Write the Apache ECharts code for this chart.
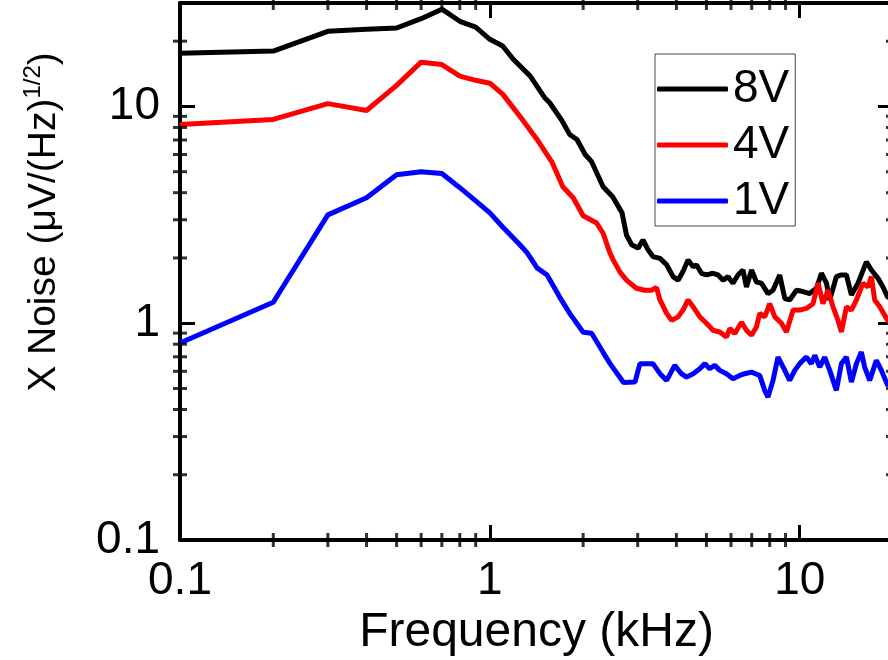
<!DOCTYPE html>
<html>
<head>
<meta charset="utf-8">
<script src="https://cdn.jsdelivr.net/npm/echarts@6/dist/echarts.min.js"></script>
<style>
html,body{margin:0;padding:0;background:#fff;}
#chart{width:888px;height:660px;}
</style>
</head>
<body>
<div id="chart"></div>
<script>
// ---- data (frequency in kHz, noise in µV/√Hz) ----
const freq8V = [0.1,0.2,0.3,0.4,0.5,0.6,0.7,0.8,0.9,1.0,1.1,1.19,1.35,1.50,1.56,1.70,1.81,1.91,2.03,2.13,2.32,2.49,2.67,2.76,2.87,3.01,3.12,3.24,3.36,3.54,3.72,3.90,4.05,4.20,4.36,4.53,4.64,4.82,5.00,5.25,5.45,5.66,5.87,6.09,6.32,6.56,6.73,6.99,7.25,7.52,7.90,8.20,8.62,8.95,9.28,9.76,10.25,10.77,11.32,11.75,12.20,12.50,13.13,13.63,14.15,14.68,15.42,16.41,17.03,17.89,18.57,19.23,20.0];
const noise8V = [17.6,18.0,22.2,22.7,23.0,25.4,28.1,24.7,23.2,20.4,19.0,16.5,13.8,11.0,10.4,8.7,7.42,7.04,6.00,5.56,4.26,3.83,3.23,2.55,2.30,2.22,2.42,2.18,2.03,1.99,1.86,1.64,1.58,1.73,1.96,1.82,1.86,1.70,1.67,1.70,1.67,1.58,1.64,1.53,1.67,1.76,1.47,1.76,1.55,1.53,1.37,1.42,1.67,1.30,1.28,1.42,1.40,1.37,1.45,1.70,1.53,1.28,1.64,1.67,1.67,1.35,1.53,1.92,1.76,1.61,1.47,1.32,1.30];

const freq4V = [0.1,0.2,0.3,0.4,0.5,0.6,0.7,0.8,0.9,1.0,1.1,1.25,1.42,1.59,1.72,1.86,2.00,2.21,2.32,2.44,2.50,2.63,2.76,2.97,3.16,3.32,3.45,3.54,3.72,3.86,4.05,4.20,4.36,4.53,4.76,5.00,5.25,5.52,5.80,5.95,6.17,6.49,6.73,6.99,7.25,7.43,7.71,8.00,8.31,8.73,9.06,9.52,10.0,10.5,11.04,11.46,11.89,12.34,12.81,13.29,13.63,14.15,14.68,15.24,16.0,16.61,17.03,17.46,18.12,19.23,20.0];
const noise4V = [8.26,8.71,10.3,9.58,12.5,16.0,15.6,13.8,13.2,12.8,11.4,9.0,7.04,5.5,4.26,3.78,3.13,2.90,2.60,2.11,1.96,1.72,1.58,1.45,1.42,1.42,1.46,1.28,1.11,1.03,1.07,1.15,1.28,1.19,1.07,1.00,0.928,0.911,0.864,0.945,0.896,1.01,0.928,0.880,0.961,1.11,1.07,1.23,1.07,1.00,0.911,1.15,1.15,1.17,1.23,1.53,1.23,1.42,1.19,1.03,0.911,1.19,1.15,1.28,1.53,1.47,1.64,1.28,1.19,1.03,1.00];

const freq1V = [0.1,0.2,0.3,0.4,0.5,0.6,0.7,0.8,0.9,1.0,1.1,1.25,1.32,1.42,1.53,1.68,1.81,2.00,2.13,2.32,2.44,2.70,2.94,3.05,3.20,3.36,3.54,3.72,3.95,4.15,4.31,4.53,4.76,4.94,5.12,5.32,5.52,5.80,6.09,6.40,6.65,6.99,7.43,7.71,7.90,8.20,8.51,8.95,9.28,9.64,10.0,10.5,10.9,11.18,11.6,12.04,12.5,13.13,13.63,14.15,14.68,15.24,15.81,16.2,16.82,17.67,18.35,19.23,20.0];
const noise1V = [0.81,1.25,3.16,3.79,4.84,5.00,4.90,4.22,3.67,3.23,2.78,2.30,2.11,1.80,1.67,1.32,1.11,0.908,0.899,0.734,0.653,0.533,0.535,0.651,0.651,0.651,0.585,0.545,0.639,0.585,0.564,0.585,0.617,0.651,0.617,0.639,0.606,0.585,0.555,0.574,0.585,0.595,0.574,0.490,0.456,0.545,0.698,0.606,0.545,0.606,0.651,0.698,0.651,0.711,0.628,0.698,0.606,0.490,0.651,0.698,0.535,0.651,0.736,0.628,0.545,0.674,0.606,0.516,0.55];

const seriesNames = ['8V','4V','1V'];
const seriesColors = ['#000000','#ff0000','#0000ff'];

const xMin = 0.1, xMax = 20;
const yMin = 0.1, yMax = 30;
const xMinorTicks = [0.2,0.3,0.4,0.5,0.6,0.7,0.8,0.9,2,3,4,5,6,7,8,9];
const yMinorTicks = [0.2,0.3,0.4,0.5,0.6,0.7,0.8,0.9,2,3,4,5,6,7,8,9,20];

const FONT = '"Liberation Sans", Arial, sans-serif';

function zip(a, b){ return a.map((v,i)=>[v,b[i]]); }

const chart = echarts.init(document.getElementById('chart'), null, {renderer:'canvas'});

const isDecade = v => Math.abs(Math.log10(v) - Math.round(Math.log10(v))) < 1e-6;

const axisCommon = {
  type: 'log', logBase: 10,
  axisLine: {show:true, lineStyle:{color:'#000', width:4}},
  axisTick: {show:true, inside:true, length:15, lineStyle:{color:'#000', width:3}},
  splitLine: {show:false}
};

const MT_LEN = 14, MT_W = 3; // symbol centred on frame edge: 7px shows inside

function minorTickSeries(data, size){
  return {type:'scatter', data:data, symbol:'rect', symbolSize:size,
    itemStyle:{color:'#000'}, clip:false, z:5};
}

const option = {
  animation: false,
  backgroundColor: '#fff',
  grid: {left:180, right:-5, top:3, bottom:120, containLabel:false, outerBoundsMode:'none'},
  xAxis: [
    Object.assign({}, axisCommon, {
      position:'bottom', min:xMin, max:xMax,
      name:'Frequency (kHz)', nameLocation:'middle', nameGap:68,
      nameTextStyle:{fontFamily:FONT, fontSize:48, color:'#000'},
      axisLabel:{show:true, margin:18, fontFamily:FONT, fontSize:46, color:'#000',
        showMaxLabel:false,
        formatter: v => isDecade(v) ? String(+v.toPrecision(3)) : ''}
    }),
    Object.assign({}, axisCommon, {
      position:'top', min:xMin, max:xMax, axisLabel:{show:false}
    })
  ],
  yAxis: [
    Object.assign({}, axisCommon, {
      position:'left', min:yMin, max:yMax,
      axisLabel:{show:true, margin:20, fontFamily:FONT, fontSize:46, color:'#000',
        showMaxLabel:false,
        formatter: v => isDecade(v) ? String(+v.toPrecision(3)) : ''}
    }),
    Object.assign({}, axisCommon, {
      position:'right', min:yMin, max:yMax, axisLabel:{show:false}
    })
  ],
  legend: {
    data: seriesNames,
    orient:'vertical', left:655, top:54,
    padding:[12,6,2,2], itemGap:10,
    itemWidth:71, itemHeight:5,
    icon:'roundRect',
    backgroundColor:'#fff', borderColor:'#444', borderWidth:1, borderRadius:0,
    textStyle:{fontFamily:FONT, fontSize:46, color:'#000', lineHeight:46}
  },
  graphic: [{
    type:'text', x:44, y:222, rotation:Math.PI/2,
    style:{
      text:'{a|X Noise (μV/(Hz)}{s|1/2}{a|)}',
      align:'center', verticalAlign:'middle',
      fill:'#000',
      rich:{
        a:{fontFamily:FONT, fontSize:39, lineHeight:46, fill:'#000'},
        s:{fontFamily:FONT, fontSize:24, lineHeight:24, verticalAlign:'top', fill:'#000'}
      }
    }
  }],
  series: [
    {name:'8V', type:'line', data:zip(freq8V,noise8V), showSymbol:false, symbol:'none',
     lineStyle:{color:seriesColors[0], width:5}, itemStyle:{color:seriesColors[0]}, z:3},
    {name:'4V', type:'line', data:zip(freq4V,noise4V), showSymbol:false, symbol:'none',
     lineStyle:{color:seriesColors[1], width:5}, itemStyle:{color:seriesColors[1]}, z:3},
    {name:'1V', type:'line', data:zip(freq1V,noise1V), showSymbol:false, symbol:'none',
     lineStyle:{color:seriesColors[2], width:5}, itemStyle:{color:seriesColors[2]}, z:3},
    minorTickSeries(xMinorTicks.map(v=>[v,yMin]), [MT_W, MT_LEN]),
    minorTickSeries(xMinorTicks.map(v=>[v,yMax]), [MT_W, MT_LEN]),
    minorTickSeries(yMinorTicks.map(v=>[xMin,v]), [MT_LEN, MT_W]),
    minorTickSeries(yMinorTicks.map(v=>[xMax,v]), [MT_LEN, MT_W])
  ]
};
chart.setOption(option);
</script>
</body>
</html>
